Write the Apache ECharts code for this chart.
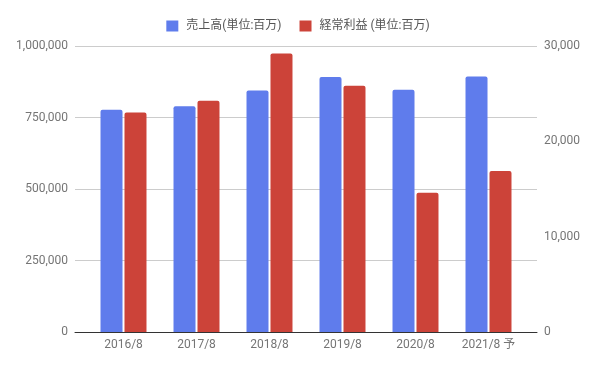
<!DOCTYPE html>
<html><head><meta charset="utf-8">
<script src="https://cdn.jsdelivr.net/npm/echarts@6/dist/echarts.min.js"></script>
<style>html,body{margin:0;padding:0;background:#fff}#c{width:596px;height:368px}</style>
</head><body><div id="c"></div>
<script>
const categories = ['2016/8','2017/8','2018/8','2019/8','2020/8','2021/8 予'];
const salesName = '売上高(単位:百万)';
const profitName = '経常利益 (単位:百万)';
const sales = [777000, 789000, 844000, 892000, 847000, 893000];
const profit = [23030, 24260, 29210, 25840, 14610, 16890];
const leftTicks = [0, 250000, 500000, 750000, 1000000];
const rightTicks = [0, 10000, 20000, 30000];

const FONT = "Roboto, 'Noto Sans CJK JP', sans-serif";
const fmt = v => Number(v).toLocaleString('en-US');
const chart = echarts.init(document.getElementById('c'), null, {renderer:'canvas'});
chart.setOption({
  animation:false,
  textStyle:{fontFamily:FONT},
  legend:{top:15, left:'center', itemWidth:12, itemHeight:11, itemGap:18, icon:'rect',
    textStyle:{fontSize:12, color:'#555', fontFamily:FONT, padding:[0,0,0,3]},
    data:[salesName, profitName]},
  grid:[
    {left:75, right:59, top:46, bottom:36},
    {left:87, right:71, top:46, bottom:36}
  ],
  xAxis:[
    {gridIndex:0, type:'category', data:[''], axisLine:{show:true, lineStyle:{color:'#333', width:1}},
      axisTick:{show:false}, axisLabel:{show:false}},
    {gridIndex:1, type:'category', data:categories, axisLine:{show:false}, axisTick:{show:false},
      axisLabel:{color:'#757575', fontSize:12, margin:7, fontFamily:FONT}}
  ],
  yAxis:[
    {gridIndex:0, type:'value', position:'left', min:leftTicks[0], max:leftTicks[leftTicks.length-1], interval:leftTicks[1]-leftTicks[0],
      axisLine:{show:false}, axisTick:{show:false},
      axisLabel:{color:'#757575', fontSize:12, margin:7, formatter:fmt, fontFamily:FONT},
      splitLine:{lineStyle:{color:'#cccccc'}}},
    {gridIndex:0, type:'value', position:'right', min:rightTicks[0], max:rightTicks[rightTicks.length-1], interval:rightTicks[1]-rightTicks[0],
      axisLine:{show:false}, axisTick:{show:false},
      axisLabel:{color:'#757575', fontSize:12, margin:7, formatter:fmt, fontFamily:FONT},
      splitLine:{show:false}},
    {gridIndex:1, type:'value', min:leftTicks[0], max:leftTicks[leftTicks.length-1], show:false, splitLine:{show:false}},
    {gridIndex:1, type:'value', min:rightTicks[0], max:rightTicks[rightTicks.length-1], show:false, splitLine:{show:false}}
  ],
  series:[
    {name:salesName, type:'bar', xAxisIndex:1, yAxisIndex:2, data:sales, barWidth:22, barGap:'9%',
      itemStyle:{color:'#5f7cec', borderRadius:[2,2,0,0]}},
    {name:profitName, type:'bar', xAxisIndex:1, yAxisIndex:3, data:profit, barWidth:22, barGap:'9%',
      itemStyle:{color:'#cc4339', borderRadius:[2,2,0,0]}}
  ]
});
</script></body></html>
